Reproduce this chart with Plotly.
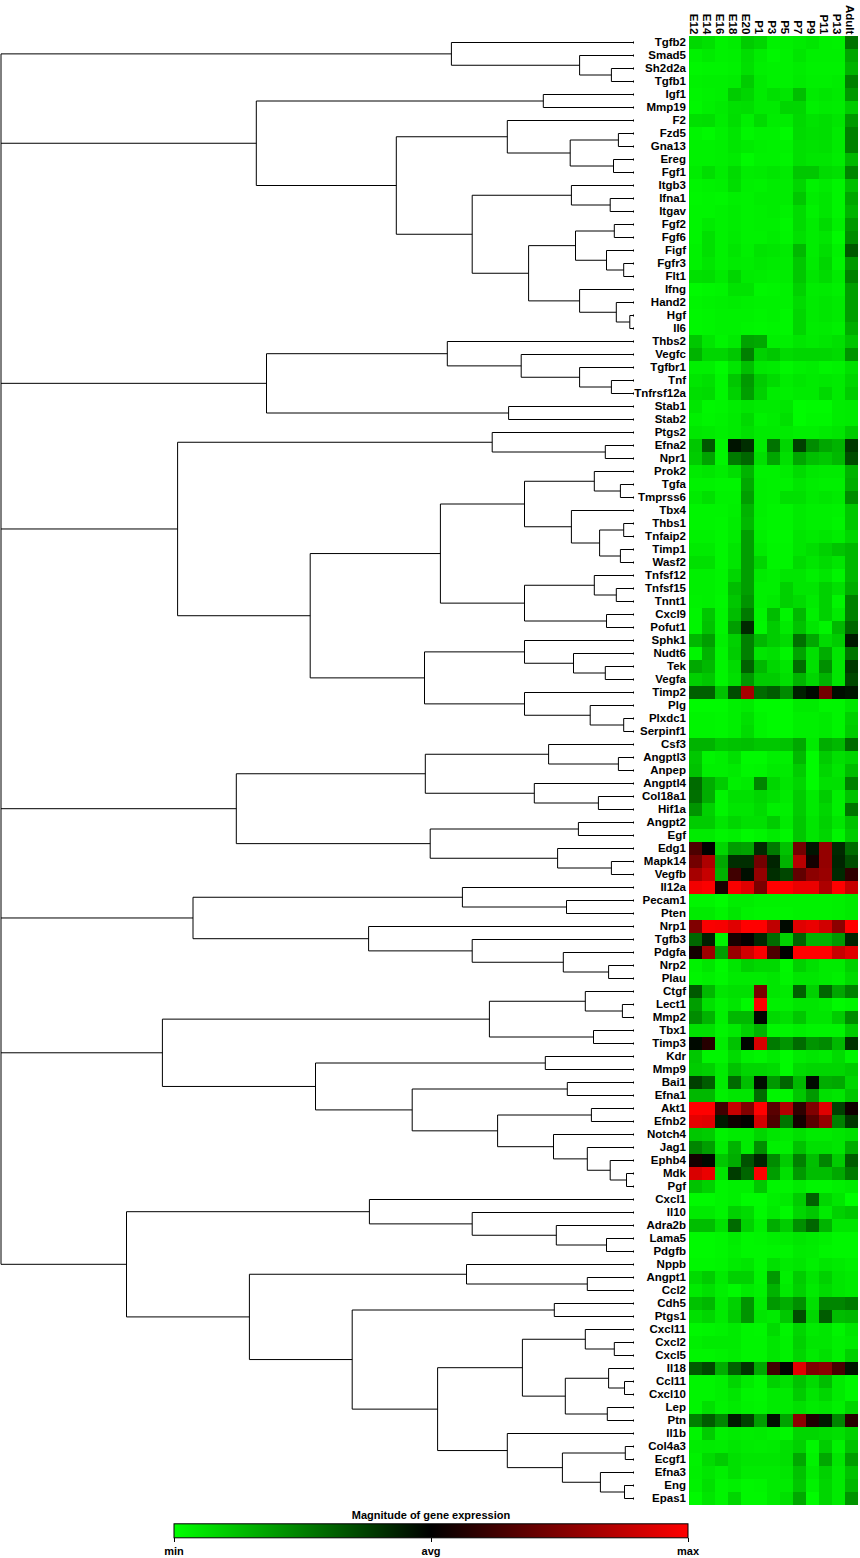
import plotly.graph_objects as go

# figure size in pixels, the axes domains below are worked out from these
WIDTH = 860
HEIGHT = 1558

stages = ["E12", "E14", "E16", "E18", "E20", "P1", "P3", "P5", "P7", "P9", "P11", "P13", "Adult"]

genes = [
    "Tgfb2", "Smad5", "Sh2d2a", "Tgfb1", "Igf1", "Mmp19", "F2", "Fzd5", "Gna13", "Ereg",
    "Fgf1", "Itgb3", "Ifna1", "Itgav", "Fgf2", "Fgf6", "Figf", "Fgfr3", "Flt1", "Ifng",
    "Hand2", "Hgf", "Il6", "Thbs2", "Vegfc", "Tgfbr1", "Tnf", "Tnfrsf12a", "Stab1", "Stab2",
    "Ptgs2", "Efna2", "Npr1", "Prok2", "Tgfa", "Tmprss6", "Tbx4", "Thbs1", "Tnfaip2", "Timp1",
    "Wasf2", "Tnfsf12", "Tnfsf15", "Tnnt1", "Cxcl9", "Pofut1", "Sphk1", "Nudt6", "Tek", "Vegfa",
    "Timp2", "Plg", "Plxdc1", "Serpinf1", "Csf3", "Angptl3", "Anpep", "Angptl4", "Col18a1", "Hif1a",
    "Angpt2", "Egf", "Edg1", "Mapk14", "Vegfb", "Il12a", "Pecam1", "Pten", "Nrp1", "Tgfb3",
    "Pdgfa", "Nrp2", "Plau", "Ctgf", "Lect1", "Mmp2", "Tbx1", "Timp3", "Kdr", "Mmp9",
    "Bai1", "Efna1", "Akt1", "Efnb2", "Notch4", "Jag1", "Ephb4", "Mdk", "Pgf", "Cxcl1",
    "Il10", "Adra2b", "Lama5", "Pdgfb", "Nppb", "Angpt1", "Ccl2", "Cdh5", "Ptgs1", "Cxcl11",
    "Cxcl2", "Cxcl5", "Il18", "Ccl11", "Cxcl10", "Lep", "Ptn", "Il1b", "Col4a3", "Ecgf1",
    "Efna3", "Eng", "Epas1",
]

# expression per gene, percent of the way from avg (0) to max (100) or min (-100)
expression = [
    [-85, -88, -95, -93, -80, -84, -95, -94, -92, -90, -94, -95, -45],
    [-95, -92, -95, -94, -87, -93, -97, -95, -90, -94, -94, -94, -65],
    [-97, -96, -96, -95, -88, -94, -95, -95, -93, -95, -95, -95, -70],
    [-95, -94, -94, -93, -80, -92, -95, -95, -92, -94, -94, -93, -50],
    [-96, -95, -94, -80, -84, -92, -88, -90, -75, -92, -90, -92, -60],
    [-97, -94, -92, -88, -87, -92, -92, -84, -84, -94, -92, -93, -80],
    [-88, -87, -93, -87, -94, -86, -93, -93, -85, -89, -87, -90, -60],
    [-96, -98, -95, -90, -97, -95, -95, -98, -86, -88, -87, -92, -50],
    [-95, -95, -94, -90, -92, -94, -95, -95, -88, -89, -88, -92, -50],
    [-95, -95, -94, -92, -98, -95, -95, -96, -88, -90, -90, -93, -72],
    [-93, -87, -93, -86, -93, -92, -90, -92, -78, -78, -86, -88, -52],
    [-96, -95, -94, -87, -94, -95, -93, -93, -84, -95, -92, -96, -75],
    [-97, -96, -97, -94, -95, -93, -93, -93, -78, -93, -90, -96, -65],
    [-96, -96, -95, -93, -95, -94, -93, -95, -86, -95, -90, -96, -70],
    [-96, -92, -95, -93, -95, -94, -94, -97, -86, -93, -86, -94, -60],
    [-96, -88, -95, -92, -95, -95, -93, -96, -88, -93, -90, -98, -55],
    [-95, -88, -95, -90, -94, -89, -90, -92, -72, -93, -87, -95, -35],
    [-95, -90, -95, -92, -93, -91, -92, -93, -78, -92, -84, -96, -60],
    [-88, -87, -92, -84, -92, -93, -94, -93, -78, -90, -86, -92, -50],
    [-98, -97, -96, -89, -89, -97, -96, -95, -82, -93, -92, -94, -62],
    [-96, -95, -94, -93, -94, -95, -95, -95, -86, -92, -90, -92, -62],
    [-97, -96, -95, -95, -95, -96, -95, -97, -84, -92, -90, -92, -62],
    [-97, -96, -95, -95, -96, -97, -96, -97, -84, -93, -92, -94, -68],
    [-78, -90, -96, -92, -64, -66, -94, -94, -90, -92, -90, -88, -77],
    [-70, -84, -84, -78, -50, -82, -78, -86, -84, -84, -84, -86, -58],
    [-94, -94, -99, -90, -75, -91, -92, -97, -94, -93, -96, -95, -88],
    [-90, -88, -97, -78, -60, -80, -86, -93, -90, -92, -91, -92, -84],
    [-87, -86, -97, -82, -62, -82, -93, -94, -92, -92, -85, -92, -80],
    [-90, -97, -96, -93, -90, -92, -92, -90, -99, -98, -98, -93, -92],
    [-94, -96, -95, -92, -85, -95, -93, -88, -99, -97, -97, -93, -92],
    [-91, -92, -94, -92, -88, -92, -92, -92, -94, -94, -92, -90, -80],
    [-78, -34, -96, -8, -18, -92, -45, -84, -25, -55, -65, -70, -22],
    [-80, -64, -96, -48, -40, -88, -65, -88, -65, -75, -78, -72, -30],
    [-92, -90, -93, -87, -70, -95, -95, -93, -86, -91, -92, -92, -70],
    [-95, -95, -96, -96, -66, -94, -95, -95, -90, -93, -94, -94, -68],
    [-92, -88, -95, -95, -62, -94, -95, -88, -88, -92, -90, -92, -55],
    [-96, -96, -96, -94, -70, -94, -96, -96, -92, -94, -94, -95, -78],
    [-96, -96, -97, -93, -72, -95, -96, -96, -92, -94, -94, -96, -78],
    [-95, -95, -97, -93, -62, -94, -97, -97, -90, -92, -90, -93, -84],
    [-92, -92, -97, -90, -62, -92, -96, -96, -90, -87, -82, -77, -72],
    [-88, -88, -97, -90, -62, -84, -96, -96, -86, -90, -86, -90, -72],
    [-94, -94, -96, -84, -62, -92, -94, -90, -90, -94, -90, -96, -72],
    [-94, -94, -96, -74, -62, -94, -94, -82, -90, -90, -82, -88, -68],
    [-95, -94, -97, -78, -58, -94, -92, -82, -86, -92, -82, -96, -50],
    [-96, -78, -96, -74, -48, -96, -74, -96, -72, -94, -82, -92, -50],
    [-96, -76, -96, -62, -16, -97, -80, -92, -76, -90, -96, -72, -40],
    [-72, -62, -94, -82, -50, -72, -80, -86, -44, -66, -86, -80, -10],
    [-96, -70, -96, -80, -50, -90, -88, -96, -64, -88, -68, -90, -46],
    [-66, -72, -96, -86, -38, -72, -84, -90, -42, -88, -56, -90, -22],
    [-82, -78, -96, -88, -60, -80, -80, -88, -70, -84, -70, -90, -28],
    [-38, -38, -76, -30, 65, -42, -36, -54, -12, -3, 45, -5, -8],
    [-98, -98, -98, -94, -92, -98, -98, -98, -92, -92, -96, -96, -90],
    [-96, -96, -97, -94, -88, -96, -98, -98, -94, -94, -92, -96, -82],
    [-96, -96, -97, -94, -86, -96, -98, -98, -94, -94, -92, -96, -80],
    [-70, -70, -78, -76, -75, -78, -78, -76, -66, -92, -68, -72, -42],
    [-78, -96, -94, -88, -98, -98, -94, -94, -72, -99, -80, -88, -84],
    [-76, -94, -94, -92, -97, -96, -92, -92, -80, -99, -84, -90, -74],
    [-42, -68, -80, -94, -92, -52, -84, -90, -84, -99, -88, -88, -50],
    [-44, -68, -96, -88, -88, -84, -88, -92, -80, -92, -80, -94, -76],
    [-58, -82, -96, -90, -90, -86, -94, -94, -80, -92, -84, -94, -46],
    [-80, -80, -90, -84, -88, -88, -80, -92, -78, -90, -82, -90, -76],
    [-92, -92, -96, -94, -98, -96, -92, -97, -78, -90, -84, -96, -80],
    [30, -1, -84, -62, -64, -16, -48, -76, 45, -8, 58, -16, -42],
    [45, 68, -66, -18, -18, 45, -14, -70, 72, 8, 58, -14, -30],
    [65, 78, -70, 25, -6, 58, -18, -28, 38, 55, 60, -16, 18],
    [95, 99, 10, 98, 88, 48, 100, 100, 92, 92, 68, 100, 78],
    [-96, -96, -99, -93, -93, -95, -95, -95, -95, -95, -95, -94, -92],
    [-92, -92, -96, -90, -95, -96, -96, -96, -95, -95, -95, -94, -92],
    [50, 98, 97, 88, 100, 100, 75, -4, 88, 92, 82, 55, 100],
    [-40, -12, -96, 10, 2, -15, -42, -82, -38, -70, -70, -60, -14],
    [8, 62, -62, 60, 82, 98, 30, 0, 100, 100, 100, 78, 88],
    [-95, -90, -98, -90, -82, -85, -85, -97, -82, -88, -92, -92, -82],
    [-96, -94, -97, -92, -92, -92, -90, -96, -90, -90, -92, -94, -86],
    [-35, -72, -90, -88, -88, 48, -90, -92, -38, -82, -40, -65, -50],
    [-62, -88, -95, -90, -98, 100, -94, -94, -90, -90, -92, -98, -96],
    [-55, -70, -94, -72, -72, -2, -85, -88, -78, -90, -90, -80, -55],
    [-88, -88, -96, -92, -82, -70, -97, -97, -94, -96, -96, -96, -80],
    [-4, 15, -93, -76, -2, 85, -48, -58, -42, -58, -54, -72, -20],
    [-78, -96, -96, -86, -94, -96, -92, -98, -92, -90, -92, -86, -96],
    [-80, -82, -92, -76, -84, -84, -86, -98, -86, -84, -84, -84, -80],
    [-25, -36, -92, -42, -75, -5, -60, -40, -72, -4, -68, -66, -84],
    [-72, -72, -94, -90, -90, -42, -96, -96, -78, -60, -88, -90, -78],
    [100, 100, 25, 78, 50, 100, 35, 70, 18, 50, 88, -25, 6],
    [90, 88, -10, 6, 1, 82, 30, -46, 8, 35, 58, -50, -22],
    [-78, -80, -95, -92, -92, -84, -90, -92, -88, -92, -92, -90, -88],
    [-52, -62, -92, -70, -92, -56, -94, -94, -76, -88, -88, -90, -68],
    [8, -4, -78, -68, -32, -14, -55, -80, -50, -75, -52, -80, -36],
    [85, 92, -90, -24, -40, 100, -62, -88, -60, -74, -74, -66, -48],
    [-76, -82, -96, -94, -94, -78, -96, -96, -92, -96, -96, -94, -92],
    [-98, -98, -96, -94, -99, -99, -94, -92, -80, -38, -84, -90, -100],
    [-92, -92, -96, -82, -86, -98, -92, -98, -84, -78, -92, -82, -78],
    [-74, -74, -88, -42, -82, -94, -68, -80, -56, -40, -70, -90, -90],
    [-98, -98, -97, -93, -97, -96, -94, -93, -90, -92, -94, -97, -97],
    [-98, -98, -97, -94, -97, -97, -96, -96, -92, -93, -96, -97, -97],
    [-97, -97, -96, -92, -90, -97, -88, -92, -90, -94, -90, -92, -94],
    [-86, -80, -92, -82, -82, -96, -60, -94, -80, -90, -82, -90, -92],
    [-92, -88, -94, -98, -92, -95, -70, -92, -82, -92, -86, -90, -92],
    [-76, -72, -92, -82, -58, -92, -60, -68, -56, -88, -52, -52, -48],
    [-88, -84, -92, -80, -58, -90, -92, -78, -30, -84, -36, -74, -72],
    [-97, -96, -95, -92, -96, -97, -86, -96, -84, -92, -90, -96, -90],
    [-94, -92, -92, -92, -96, -96, -90, -95, -82, -90, -90, -94, -92],
    [-96, -96, -95, -93, -96, -96, -90, -95, -84, -92, -88, -94, -82],
    [-36, -28, -68, -38, -20, -66, 25, -2, 88, 50, 55, 28, -8],
    [-96, -96, -94, -84, -92, -97, -82, -88, -76, -86, -74, -92, -97],
    [-96, -96, -94, -90, -96, -97, -92, -92, -80, -90, -84, -92, -97],
    [-96, -88, -95, -92, -95, -96, -92, -92, -88, -92, -90, -94, -84],
    [-50, -36, -52, -10, -26, -62, -6, -64, 55, 12, -10, -52, 15],
    [-96, -80, -94, -92, -93, -92, -94, -97, -84, -84, -86, -88, -82],
    [-93, -92, -93, -90, -92, -93, -92, -88, -82, -97, -80, -95, -76],
    [-95, -86, -80, -88, -90, -90, -90, -88, -66, -95, -66, -90, -62],
    [-94, -90, -94, -88, -92, -92, -92, -90, -76, -92, -82, -92, -76],
    [-95, -88, -96, -94, -97, -96, -92, -92, -78, -95, -84, -92, -72],
    [-98, -90, -96, -84, -97, -97, -92, -88, -66, -99, -84, -92, -58],
]

# dendrogram, one cluster per branch off the root: [merge position, upper child, lower child]
cluster_1 = [451.4, "Tgfb2", [579.6, "Smad5", [611.4, "Sh2d2a", "Tgfb1"]]]
cluster_2 = [256.3,
    [543.3, "Igf1", "Mmp19"],
    [396.3,
        [507.3, "F2", [570.2, [618.4, "Fzd5", "Gna13"], [613.5, "Ereg", "Fgf1"]]],
        [472.2,
            [571.4, "Itgb3", [610.2, "Ifna1", "Itgav"]],
            [528.6,
                [575.5, [614.3, "Fgf2", "Fgf6"], [606.5, "Figf", [623.7, "Fgfr3", "Flt1"]]],
                [579.6, "Ifng", [616.3, "Hand2", [629.8, "Hgf", "Il6"]]]]]]]
cluster_3 = [266.5,
    [447.3, "Thbs2", [521.2, "Vegfc", [579.6, "Tgfbr1", [611.4, "Tnf", "Tnfrsf12a"]]]],
    [508.6, "Stab1", "Stab2"]]
cluster_4 = [177.6,
    [492.2, "Ptgs2", [605.3, "Efna2", "Npr1"]],
    [310.2,
        [440.4,
            [524.5,
                [594.3, "Prok2", [620.4, "Tgfa", "Tmprss6"]],
                [571.4, "Tbx4", [599.6, [623.7, "Thbs1", "Tnfaip2"], [620.4, "Timp1", "Wasf2"]]]],
            [524.5,
                [594.3, "Tnfsf12", [616.3, "Tnfsf15", "Tnnt1"]],
                [606.5, "Cxcl9", "Pofut1"]]],
        [424.5,
            [524.5, "Sphk1", [573.5, "Nudt6", [605.3, "Tek", "Vegfa"]]],
            [524.5, "Timp2", [590.2, "Plg", [623.7, "Plxdc1", "Serpinf1"]]]]]]
cluster_5 = [236.3,
    [425.3,
        [548.6, "Csf3", [618.4, "Angptl3", "Anpep"]],
        [534.3, "Angptl4", [598.4, "Col18a1", "Hif1a"]]],
    [430.2,
        [578.4, "Angpt2", "Egf"],
        [557.6, "Edg1", [611.4, "Mapk14", "Vegfb"]]]]
cluster_6 = [193.0,
    [462.4, "Il12a", [566.5, "Pecam1", "Pten"]],
    [368.6, "Nrp1", [472.2, "Tgfb3", [563.3, "Pdgfa", [608.6, "Nrp2", "Plau"]]]]]
cluster_7 = [162.4,
    [489.4, [585.3, "Ctgf", [622.4, "Lect1", "Mmp2"]], [593.5, "Tbx1", "Timp3"]],
    [315.5,
        [545.3, "Kdr", "Mmp9"],
        [412.2,
            [567.3, "Bai1", "Efna1"],
            [497.6,
                [591.4, "Akt1", "Efnb2"],
                [553.5, "Notch4", [587.3, "Jag1", [610.2, "Ephb4", [626.5, "Mdk", "Pgf"]]]]]]]]
cluster_8 = [126.5,
    [369.4, "Cxcl1", [472.2, "Il10", [556.3, "Adra2b", [606.5, "Lama5", "Pdgfb"]]]],
    [249.4,
        [466.5, "Nppb", [587.3, "Angpt1", "Ccl2"]],
        [352.2,
            [554.3, "Cdh5", "Ptgs1"],
            [437.6,
                [522.4,
                    [585.3, "Cxcl11", [614.3, "Cxcl2", "Cxcl5"]],
                    [565.3, [608.6, "Il18", [624.5, "Ccl11", "Cxcl10"]], [607.3, "Lep", "Ptn"]]],
                [507.3,
                    "Il1b",
                    [562.4, [625.3, "Col4a3", "Ecgf1"], [600.4, "Efna3", [624.5, "Eng", "Epas1"]]]]]]]]
clusters = [cluster_1, cluster_2, cluster_3, cluster_4, cluster_5, cluster_6, cluster_7, cluster_8]
root_position = 1
leaf_position = 634


def add_segment(xs, ys, x0, y0, x1, y1):
    xs.extend([x0, x1, None])
    ys.extend([y0, y1, None])


def walk_tree(node, xs, ys):
    """Collect the line segments below node, returns (position, row) of node."""
    if isinstance(node, str):
        return leaf_position, genes.index(node)
    position, upper, lower = node
    x_upper, y_upper = walk_tree(upper, xs, ys)
    x_lower, y_lower = walk_tree(lower, xs, ys)
    add_segment(xs, ys, position, y_upper, x_upper, y_upper)
    add_segment(xs, ys, position, y_lower, x_lower, y_lower)
    add_segment(xs, ys, position, y_upper, position, y_lower)
    return position, (y_upper + y_lower) / 2


line_x, line_y = [], []
tops = []
for cluster in clusters:
    x_top, y_top = walk_tree(cluster, line_x, line_y)
    add_segment(line_x, line_y, root_position, y_top, x_top, y_top)
    tops.append(y_top)
add_segment(line_x, line_y, root_position, tops[0], root_position, tops[-1])

rows = list(range(len(genes)))
label_font = dict(size=11.5, family="Liberation Sans", color="black", weight="bold")

fig = go.Figure()
fig.add_trace(
    go.Scatter(
        x=line_x,
        y=line_y,
        mode="lines",
        line=dict(color="black", width=1),
        hoverinfo="skip",
        xaxis="x",
        yaxis="y",
    )
)
fig.add_trace(
    go.Scatter(
        x=[leaf_position] * len(genes),
        y=rows,
        mode="markers",
        marker=dict(color="black", size=2, symbol="square"),
        hoverinfo="skip",
        xaxis="x",
        yaxis="y",
    )
)
fig.add_trace(
    go.Heatmap(
        z=expression,
        x=stages,
        y=rows,
        zmin=-100,
        zmax=100,
        colorscale=[[0, "#00ff00"], [0.5, "#000000"], [1, "#ff0000"]],
        xaxis="x2",
        yaxis="y2",
        colorbar=dict(
            orientation="h",
            lenmode="pixels",
            len=514,
            thicknessmode="pixels",
            thickness=14,
            x=174 / WIDTH,
            xanchor="left",
            y=0,
            yanchor="bottom",
            xpad=0,
            ypad=0,
            outlinecolor="black",
            outlinewidth=1,
            ticks="outside",
            ticklen=4,
            tickwidth=1,
            tickcolor="black",
            tickvals=[-100, 0, 100],
            ticktext=["min", "avg", "max"],
            tickfont=dict(size=11, family="Liberation Sans", color="black", weight="bold"),
            title=dict(
                text="Magnitude of gene expression",
                side="top",
                font=dict(size=11, family="Liberation Sans", color="black", weight="bold"),
            ),
        ),
    )
)

row_range = [len(genes) - 0.5, -0.5]
heat_top = 1 - 36 / HEIGHT
heat_bottom = 1 - 1505 / HEIGHT

fig.update_layout(
    width=WIDTH,
    height=HEIGHT,
    margin=dict(l=0, r=0, t=0, b=0),
    paper_bgcolor="white",
    plot_bgcolor="white",
    showlegend=False,
    xaxis=dict(
        domain=[0, leaf_position / WIDTH],
        range=[0, leaf_position],
        visible=False,
    ),
    yaxis=dict(
        domain=[heat_bottom, heat_top],
        range=row_range,
        visible=False,
    ),
    xaxis2=dict(
        domain=[689 / WIDTH, 858 / WIDTH],
        side="top",
        anchor="y2",
        tickangle=90,
        tickmode="array",
        tickvals=stages,
        ticktext=stages,
        ticks="",
        ticklabelshift=-2,
        ticklabelstandoff=-1,
        showgrid=False,
        zeroline=False,
        tickfont=label_font,
    ),
    yaxis2=dict(
        domain=[heat_bottom, heat_top],
        range=row_range,
        anchor="x2",
        tickvals=rows,
        ticktext=genes,
        ticks="",
        ticklabelstandoff=2,
        ticklabelshift=1,
        showgrid=False,
        zeroline=False,
        tickfont=label_font,
    ),
)

fig.write_html(
    "out.html",
    config={"displayModeBar": False},
    post_script="document.body.style.margin = '0';",
)
